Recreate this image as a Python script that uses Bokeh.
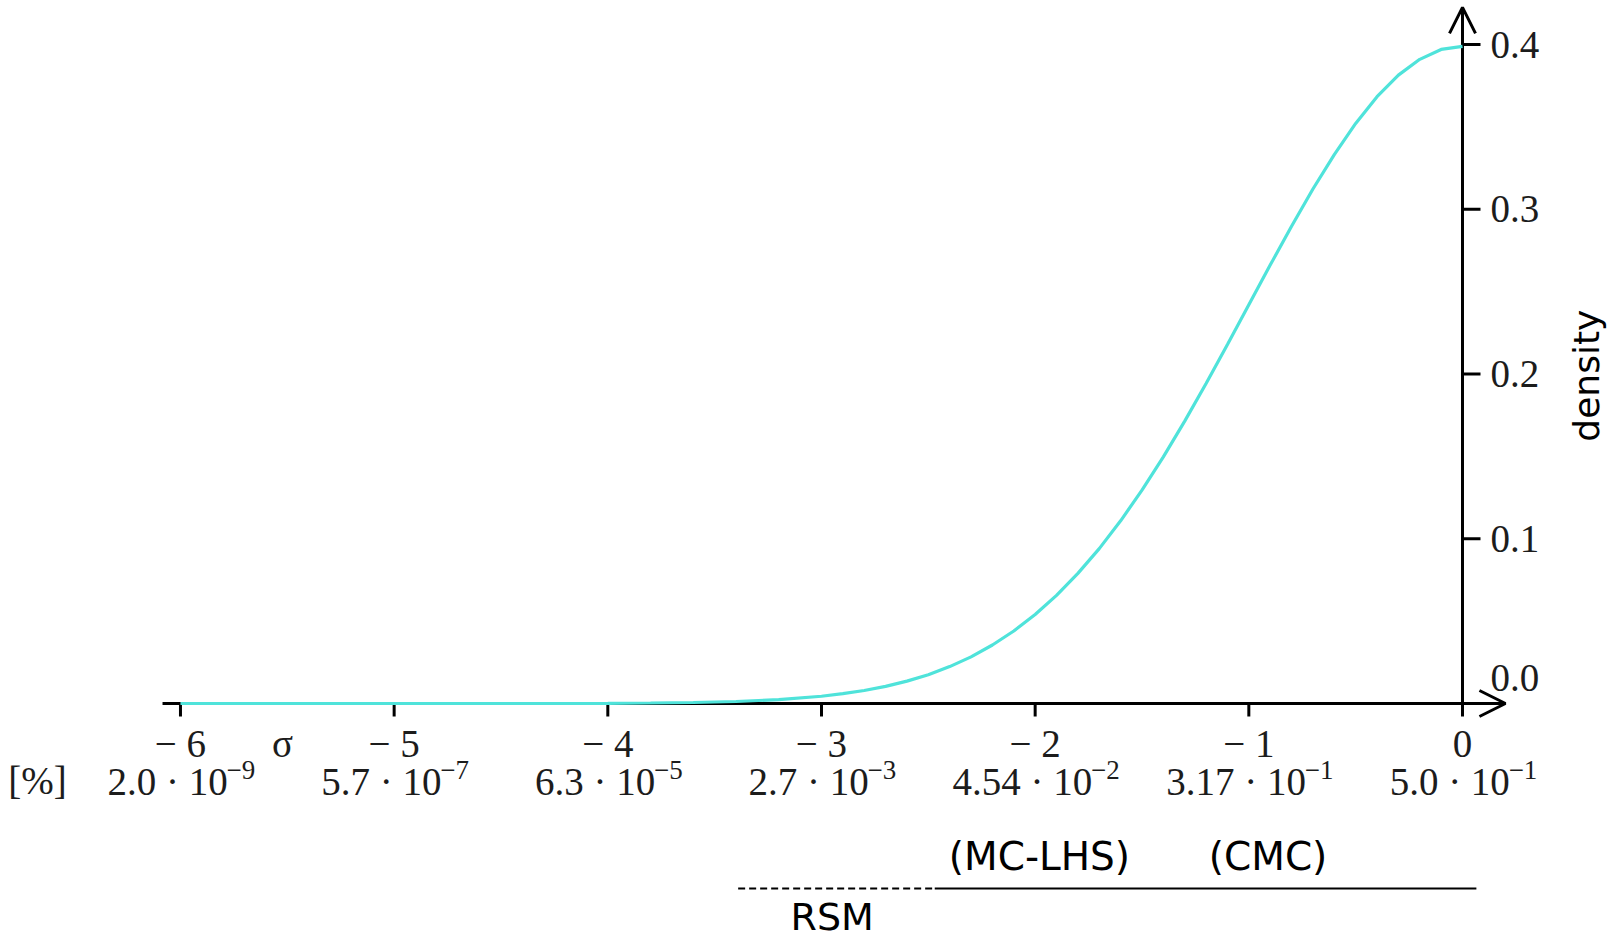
import math
from bokeh.plotting import figure
from bokeh.models import Range1d, Arrow, OpenHead
from bokeh.core.properties import value
from bokeh.embed import file_html
from bokeh.resources import INLINE

# ---------------- data ----------------
sigma_ticks = [-6, -5, -4, -3, -2, -1, 0]
sigma_labels = ["− 6", "− 5", "− 4", "− 3", "− 2", "− 1", "0"]
percent_mantissa = ["2.0", "5.7", "6.3", "2.7", "4.54", "3.17", "5.0"]
percent_exponent = ["−9", "−7", "−5", "−3", "−2", "−1", "−1"]
density_ticks = [0.1, 0.2, 0.3, 0.4]
density_labels = ["0.1", "0.2", "0.3", "0.4"]
zero_label = ["0.0"]

curve_x = [-6.0, -5.0, -4.5, -4.0, -3.8, -3.6, -3.4, -3.2, -3.0, -2.9, -2.8, -2.7,
           -2.6, -2.5, -2.4, -2.3, -2.2, -2.1, -2.0, -1.9, -1.8, -1.7, -1.6, -1.5,
           -1.4, -1.3, -1.2, -1.1, -1.0, -0.9, -0.8, -0.7, -0.6, -0.5, -0.4, -0.3,
           -0.2, -0.1, 0.0]
curve_y = [0.0, 0.0, 0.0, 0.0001, 0.0003, 0.0006, 0.0012, 0.0024, 0.0044, 0.0060,
           0.0079, 0.0104, 0.0136, 0.0175, 0.0224, 0.0283, 0.0355, 0.0440, 0.0540,
           0.0656, 0.0790, 0.0940, 0.1109, 0.1295, 0.1497, 0.1714, 0.1942, 0.2179,
           0.2420, 0.2661, 0.2897, 0.3123, 0.3332, 0.3521, 0.3683, 0.3814, 0.3910,
           0.3970, 0.3989]

method_names = ["(MC-LHS)", "(CMC)"]
method_centers = [-1.98, -0.91]
rsm_name = ["RSM"]
rsm_center = [-2.95]
rsm_span = [-3.39, -2.48]      # dashed
mc_span = [-2.47, 0.065]       # solid

# ---------------- layout ----------------
W, H = 1608, 939
Y_ZERO_PX = 703                # pixel row of density 0
X0, X1 = -6.8423, 0.6833
YS = 1647.5                    # px per density unit
Y1 = Y_ZERO_PX / YS
Y0 = -(H - Y_ZERO_PX) / YS
XS = W / (X1 - X0)             # px per x unit


def dx(px):
    return px / XS


def dy(px):
    return px / YS


SERIF = "Liberation Serif"
SANS = "DejaVu Sans"
FS = 39                  # tick label font size
FSE = round(FS * 0.7)    # exponent font size
INK = "#1c1c1c"

p = figure(width=W, height=H, x_range=Range1d(X0, X1), y_range=Range1d(Y0, Y1),
           x_axis_type=None, y_axis_type=None,
           output_backend="svg", toolbar_location=None)
p.min_border = 0
p.grid.visible = False
p.outline_line_color = None

# ---- axes drawn with arrows ----
x_axis_start = -6.084
x_axis_tip = 0.201
y_axis_tip = 0.4225
p.add_layout(Arrow(end=OpenHead(size=26, line_width=3, line_color="black"),
                   x_start=x_axis_start, y_start=0.0, x_end=x_axis_tip, y_end=0.0,
                   line_width=3, line_color="black"))
p.add_layout(Arrow(end=OpenHead(size=26, line_width=3, line_color="black"),
                   x_start=0.0, y_start=0.0, x_end=0.0, y_end=y_axis_tip,
                   line_width=3, line_color="black"))

# x ticks (pointing down)
p.segment(x0=sigma_ticks, y0=[0.0] * len(sigma_ticks), x1=sigma_ticks,
          y1=[-dy(13)] * len(sigma_ticks), line_width=3, line_color="black")
# y ticks (pointing right)
p.segment(x0=[0.0] * len(density_ticks), y0=density_ticks,
          x1=[dx(18)] * len(density_ticks), y1=density_ticks,
          line_width=3, line_color="black")

# ---- density curve ----
p.line(curve_x, curve_y, line_color="#4FE3DA", line_width=3.2, level="overlay")

# ---- x tick labels, row 1 (sigma) ----
ROW1 = 40
ROW2 = 78
p.text(x=sigma_ticks, y=[-dy(ROW1)] * len(sigma_ticks), text=sigma_labels,
       text_font=value(SERIF), text_font_size=f"{FS}px", text_color=INK,
       text_align="center", text_baseline="middle")
p.text(x=[-5.523], y=[-dy(ROW1)], text=["σ"],
       text_font=value(SERIF), text_font_size=f"{FS}px", text_color=INK,
       text_align="center", text_baseline="middle")

# ---- x tick labels, row 2 (percent) ----
CW = {"0": .5, "1": .5, "2": .5, "3": .5, "4": .5, "5": .5, "6": .5, "7": .5,
      "8": .5, "9": .5, ".": .25, " ": .25, "·": .25, "−": .564}


def width(s, fs):
    return sum(CW.get(c, .5) for c in s) * fs


bases = [m + " · 10" for m in percent_mantissa]
wb = [width(b, FS) for b in bases]
we = [width(e, FSE) for e in percent_exponent]
left = [-(a + b) / 2 for a, b in zip(wb, we)]
p.text(x=sigma_ticks, y=[-dy(ROW2)] * len(sigma_ticks), text=bases,
       x_offset=left,
       text_font=value(SERIF), text_font_size=f"{FS}px", text_color=INK,
       text_align="left", text_baseline="middle")
p.text(x=sigma_ticks, y=[-dy(ROW2 - 12)] * len(sigma_ticks), text=percent_exponent,
       x_offset=[l + a + 2 for l, a in zip(left, wb)],
       text_font=value(SERIF), text_font_size=f"{FSE}px", text_color=INK,
       text_align="left", text_baseline="middle")
p.text(x=[-6.669], y=[-dy(ROW2 - 1)], text=["[%]"],
       text_font=value(SERIF), text_font_size=f"{FS}px", text_color=INK,
       text_align="center", text_baseline="middle")

# ---- y tick labels ----
p.text(x=[0.0] * len(density_ticks), y=density_ticks, text=density_labels,
       x_offset=28, text_font=value(SERIF), text_font_size=f"{FS}px", text_color=INK,
       text_align="left", text_baseline="middle")
p.text(x=[0.0], y=[dy(26)], text=zero_label,
       x_offset=28, text_font=value(SERIF), text_font_size=f"{FS}px", text_color=INK,
       text_align="left", text_baseline="middle")
p.text(x=[0.580], y=[0.199], text=["density"], angle=math.pi / 2,
       text_font=value(SANS), text_font_size="36px", text_color="black",
       text_align="center", text_baseline="middle")

# ---- method annotations ----
p.text(x=method_centers, y=[-dy(153)] * 2, text=method_names,
       text_font=value(SANS), text_font_size="39px", text_color="black",
       text_align="center", text_baseline="middle")
p.text(x=rsm_center, y=[-dy(213)], text=rsm_name,
       text_font=value(SANS), text_font_size="38px", text_color="black",
       text_align="center", text_baseline="middle")
p.line(x=rsm_span, y=[-dy(185)] * 2, line_color="black", line_width=1.8, line_dash="7 4")
p.line(x=mc_span, y=[-dy(185)] * 2, line_color="black", line_width=2)

open("out.html", "w").write(file_html(p, INLINE))
